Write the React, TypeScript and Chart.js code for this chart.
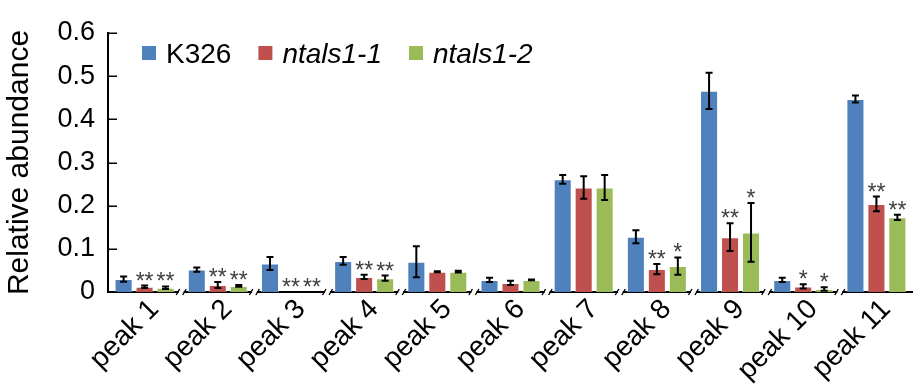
import React, { useEffect, useRef } from 'react';
import { Chart, registerables } from 'chart.js';

Chart.register(...registerables);

const categories = ['peak 1', 'peak 2', 'peak 3', 'peak 4', 'peak 5', 'peak 6', 'peak 7', 'peak 8', 'peak 9', 'peak 10', 'peak 11'];
const seriesNames = ['K326', 'ntals1-1', 'ntals1-2'];
const k326 = [0.030, 0.052, 0.066, 0.072, 0.070, 0.028, 0.261, 0.128, 0.466, 0.028, 0.447];
const k326Err = [0.006, 0.005, 0.015, 0.009, 0.036, 0.005, 0.010, 0.015, 0.042, 0.005, 0.008];
const ntals11 = [0.012, 0.016, 0, 0.035, 0.047, 0.021, 0.242, 0.053, 0.127, 0.013, 0.204];
const ntals11Err = [0.003, 0.007, 0, 0.005, 0.001, 0.005, 0.026, 0.012, 0.032, 0.005, 0.017];
const ntals12 = [0.010, 0.014, 0, 0.032, 0.047, 0.028, 0.242, 0.060, 0.138, 0.007, 0.173];
const ntals12Err = [0.003, 0.002, 0, 0.006, 0.002, 0.001, 0.029, 0.020, 0.068, 0.004, 0.006];
const sig11 = ['**', '**', '**', '**', '', '', '', '**', '**', '*', '**'];
const sig12 = ['**', '**', '**', '**', '', '', '', '*', '*', '*', '**'];
const yTicks = [0, 0.1, 0.2, 0.3, 0.4, 0.5, 0.6];

const colors = ['#4F81BD', '#C0504D', '#9BBB59'];
const FONT = "'Liberation Sans', Arial, sans-serif";

export default function App() {
  const ref = useRef<HTMLCanvasElement>(null);

  useEffect(() => {
    document.body.style.margin = '0';
    const canvas = ref.current;
    if (!canvas) return;
    const values = [k326, ntals11, ntals12];
    const errs = [k326Err, ntals11Err, ntals12Err];
    const sigs: (string[] | null)[] = [null, sig11, sig12];

    const overlay = {
      id: 'overlay',
      afterDatasetsDraw(chart: any) {
        const ctx = chart.ctx;
        const ys = chart.scales.y;
        ctx.save();
        chart.data.datasets.forEach((ds: any, di: number) => {
          const meta = chart.getDatasetMeta(di);
          meta.data.forEach((bar: any, i: number) => {
            const v = ds.data[i];
            const e = errs[di][i];
            const top = ys.getPixelForValue(v + e);
            if (e > 0) {
              const bot = ys.getPixelForValue(v - e);
              ctx.strokeStyle = '#000';
              ctx.lineWidth = 2;
              ctx.beginPath();
              ctx.moveTo(bar.x, top);
              ctx.lineTo(bar.x, bot);
              ctx.moveTo(bar.x - 3.5, top);
              ctx.lineTo(bar.x + 3.5, top);
              ctx.moveTo(bar.x - 3.5, bot);
              ctx.lineTo(bar.x + 3.5, bot);
              ctx.stroke();
            }
            const s = sigs[di] ? sigs[di]![i] : '';
            if (s) {
              ctx.fillStyle = '#404040';
              ctx.font = `23px ${FONT}`;
              ctx.textAlign = 'center';
              ctx.textBaseline = 'alphabetic';
              ctx.fillText(s, bar.x, top + 3);
            }
          });
        });
        ctx.restore();
      },
      afterDraw(chart: any) {
        const ctx = chart.ctx;
        const ys = chart.scales.y;
        const xs = chart.scales.x;
        const area = chart.chartArea;
        ctx.save();
        // inward ticks on y axis
        ctx.strokeStyle = '#000';
        ctx.lineWidth = 1.5;
        ctx.beginPath();
        yTicks.forEach((t) => {
          const py = Math.round(ys.getPixelForValue(t)) + 0.25;
          ctx.moveTo(area.left, py);
          ctx.lineTo(area.left + 9, py);
        });
        ctx.stroke();
        // break marks between categories
        const y0 = area.bottom;
        for (let i = 1; i < categories.length; i++) {
          const bx = (xs.getPixelForTick(i - 1) + xs.getPixelForTick(i)) / 2;
          ctx.fillStyle = '#fff';
          ctx.fillRect(bx - 2.5, y0 - 2, 5, 4);
          ctx.strokeStyle = '#000';
          ctx.lineWidth = 1.4;
          ctx.beginPath();
          ctx.moveTo(bx - 5, y0 + 3);
          ctx.lineTo(bx - 1.5, y0 - 3);
          ctx.moveTo(bx + 1.5, y0 + 3);
          ctx.lineTo(bx + 5, y0 - 3);
          ctx.stroke();
        }
        // legend
        let lx = 142;
        const baseline = 63;
        seriesNames.forEach((name, i) => {
          ctx.fillStyle = colors[i];
          ctx.fillRect(lx, 46, 14, 14);
          lx += 14 + 10;
          ctx.font = `${i === 0 ? '' : 'italic '}28px ${FONT}`;
          ctx.fillStyle = '#000';
          ctx.textAlign = 'left';
          ctx.textBaseline = 'alphabetic';
          ctx.fillText(name, lx, baseline);
          lx += ctx.measureText(name).width + 27;
        });
        ctx.restore();
      },
    };

    const chart = new Chart(canvas, {
      type: 'bar',
      data: {
        labels: categories,
        datasets: seriesNames.map((name, i) => ({
          label: name,
          data: values[i],
          backgroundColor: colors[i],
          borderColor: 'rgba(255,255,255,0.55)',
          borderWidth: 1,
          categoryPercentage: 0.86,
          barPercentage: 0.86,
        })),
      },
      options: {
        responsive: false,
        animation: false,
        layout: { padding: { top: 33, left: 0, right: 0, bottom: 0 } },
        plugins: { legend: { display: false }, tooltip: { enabled: false } },
        scales: {
          x: {
            grid: { display: false, drawTicks: false },
            border: { display: true, color: '#000', width: 2 },
            ticks: {
              color: '#000',
              font: { family: FONT, size: 28 },
              maxRotation: 45,
              minRotation: 45,
              autoSkip: false,
              padding: 1,
              labelOffset: 10,
            },
            afterFit: (s: any) => { s.height = 94; },
          },
          y: {
            min: 0,
            max: 0.6,
            grid: { display: false, drawTicks: false },
            border: { display: true, color: '#000', width: 2 },
            ticks: {
              stepSize: 0.1,
              color: '#000',
              font: { family: FONT, size: 27 },
              padding: 13,
              callback: (v: any) => (Number(v) === 0 ? '0' : Number(v).toFixed(1)),
            },
            title: {
              display: true,
              text: 'Relative abundance',
              color: '#000',
              font: { family: FONT, size: 30 },
              padding: { top: 2, bottom: 0 },
            },
            afterFit: (s: any) => { s.width = 108; },
          },
        },
      },
      plugins: [overlay],
    });
    return () => chart.destroy();
  }, []);

  return (
    <div style={{ width: 913, height: 386, position: 'relative', overflow: 'hidden' }}>
      <canvas ref={ref} width={913} height={386} style={{ display: 'block', width: 913, height: 386 }} />
    </div>
  );
}
